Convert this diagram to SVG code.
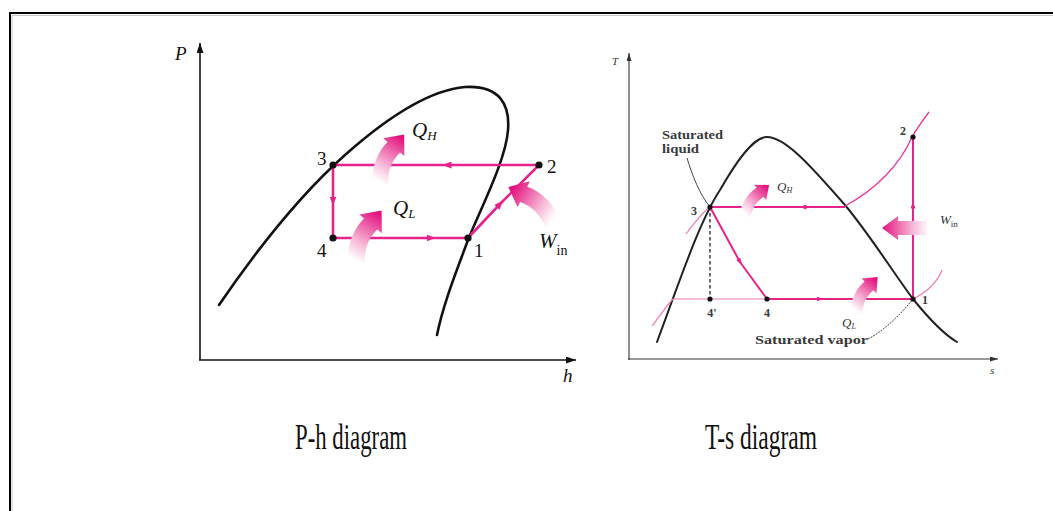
<svg xmlns="http://www.w3.org/2000/svg" width="1053" height="511" viewBox="0 0 1053 511">
<style>
.serif{font-family:"Liberation Serif","Times New Roman",serif;fill:#111}
.it{font-style:italic}
.ax{stroke:#111;stroke-width:1.6;fill:none}
.ax2{stroke:#333;stroke-width:1.1;fill:none}
.dome{stroke:#111;stroke-width:2.6;fill:none;stroke-linecap:round}
.dome2{stroke:#222;stroke-width:2;fill:none;stroke-linecap:round}
.cyc{stroke:#e6228b;stroke-width:2.6;fill:none}
.cyc2{stroke:#e6228b;stroke-width:2;fill:none}
.thin{stroke:#f07ab5;stroke-width:1.2;fill:none}
.thin2{stroke:#e8359a;stroke-width:1.3;fill:none}
.dot{fill:#111}
.ts{font-family:"Liberation Serif","Times New Roman",serif;fill:#333}
.tb{font-weight:bold;fill:#3a3a3a}
.lead{stroke:#444;stroke-width:1;fill:none}
</style>
<defs>
<marker id="mid" viewBox="0 0 10 10" refX="5" refY="5" markerUnits="userSpaceOnUse" markerWidth="9" markerHeight="7" orient="auto" preserveAspectRatio="none">
<path d="M0,0 L10,5 L0,10 z" fill="#e6228b"/>
</marker>
<marker id="mid2" viewBox="0 0 10 10" refX="5" refY="5" markerUnits="userSpaceOnUse" markerWidth="7" markerHeight="5" orient="auto" preserveAspectRatio="none">
<path d="M0,0 L10,5 L0,10 z" fill="#e6228b"/>
</marker>
<marker id="axh" viewBox="0 0 10 10" refX="10" refY="5" markerUnits="userSpaceOnUse" markerWidth="10" markerHeight="7" orient="auto" preserveAspectRatio="none">
<path d="M0,0 L10,5 L0,10 z" fill="#111"/>
</marker>
<marker id="axh2" viewBox="0 0 10 10" refX="10" refY="5" markerUnits="userSpaceOnUse" markerWidth="8" markerHeight="5" orient="auto" preserveAspectRatio="none">
<path d="M0,0 L10,5 L0,10 z" fill="#333"/>
</marker>
<linearGradient id="gv" x1="0.35" y1="1" x2="0.75" y2="0">
<stop offset="0" stop-color="#ffffff"/>
<stop offset="0.35" stop-color="#f7b6d6"/>
<stop offset="1" stop-color="#e3127d"/>
</linearGradient>
<linearGradient id="gh" x1="1" y1="0" x2="0" y2="0">
<stop offset="0" stop-color="#ffffff"/>
<stop offset="0.35" stop-color="#f7b6d6"/>
<stop offset="1" stop-color="#e3127d"/>
</linearGradient>
<path id="bent" d="M-7,0 C-7,-16 -2,-28 6.6,-36.5 L2.8,-39.7 L21,-43 L21.2,-24.3 L17.4,-27.5 C10,-20 7,-12 7,0 Z" fill="url(#gv)"/>
</defs>

<g id="frame">
<path d="M10,520 V13 H1060" fill="none" stroke="#000" stroke-width="2"/>
<path d="M12,520 V15.5 H1060" fill="none" stroke="#c8c8c8" stroke-width="1"/>
</g>

<!-- P-h diagram -->
<g id="ph-axes">
<path class="ax" d="M200,360 V43" marker-end="url(#axh)"/>
<path class="ax" d="M199,360 H576" marker-end="url(#axh)"/>
<text class="serif it" x="175" y="60" font-size="19">P</text>
<text class="serif it" x="563" y="382" font-size="19">h</text>
</g>
<g id="ph-dome">
<path class="dome" d="M219,305 C260,245 300,195 345,155 C390,115 430,90 465,87 C500,85 510,105 508,130 C506,160 480,210 468,240 C455,275 443,305 437,335"/>
</g>
<g id="ph-connectors">
<path class="cyc" d="M539,165 L447,165" marker-end="url(#mid)"/>
<path class="cyc" d="M447,165 L333,165"/>
<path class="cyc" d="M333,165 L333,201" marker-end="url(#mid)"/>
<path class="cyc" d="M333,201 L333,238"/>
<path class="cyc" d="M333,238 L431,238" marker-end="url(#mid)"/>
<path class="cyc" d="M431,238 L468,238"/>
<path class="cyc" d="M468,238 L500,204" marker-end="url(#mid)"/>
<path class="cyc" d="M500,204 L539,165"/>
</g>
<g id="ph-heat">
<use href="#bent" transform="translate(380,184) scale(1.15)"/>
<use href="#bent" transform="translate(356,263) scale(1.22)"/>
<use href="#bent" transform="translate(553,223) rotate(-25) scale(-1.2,1.2)"/>
<text class="serif" x="412" y="137" font-size="21"><tspan class="it">Q</tspan><tspan class="it" font-size="13" dy="3">H</tspan></text>
<text class="serif" x="393" y="215" font-size="21"><tspan class="it">Q</tspan><tspan class="it" font-size="13" dy="3">L</tspan></text>
<text class="serif" x="539" y="248" font-size="21"><tspan class="it">W</tspan><tspan font-size="14" dy="7">in</tspan></text>
</g>
<g id="ph-pt1"><circle class="dot" cx="468" cy="238" r="3.6"/><text class="serif" x="474" y="257" font-size="19">1</text></g>
<g id="ph-pt2"><circle class="dot" cx="539" cy="165" r="3.6"/><text class="serif" x="547" y="173" font-size="19">2</text></g>
<g id="ph-pt3"><circle class="dot" cx="333" cy="165" r="3.6"/><text class="serif" x="317" y="165" font-size="19">3</text></g>
<g id="ph-pt4"><circle class="dot" cx="333" cy="238" r="3.6"/><text class="serif" x="317" y="257" font-size="19">4</text></g>

<!-- T-s diagram -->
<g id="ts-axes">
<path class="ax2" d="M629,360 V53" marker-end="url(#axh2)"/>
<path class="ax2" d="M628,359 H998" marker-end="url(#axh2)"/>
<text class="ts it" x="612" y="65" font-size="11">T</text>
<text class="ts it" x="990" y="374" font-size="11">s</text>
</g>
<g id="ts-dome">
<path class="dome2" d="M657,342 C680,280 700,220 720,190 C740,155 755,137 767,137 C785,137 810,165 845,205 C870,235 895,275 913,299 C930,320 945,335 957,342"/>
</g>
<g id="ts-lines">
<path class="thin2" d="M845,206 C875,190 900,165 912,137 C918,127 923,120 929,112"/>
<path class="thin" d="M652,326 C660,316 666,306 673,299 L767,299"/>
<path class="thin" d="M913,299 C925,293 937,283 942,270"/>
<path class="thin" d="M686,234 C695,222 703,212 710,207"/>
<path d="M710,207 V299" stroke="#222" stroke-width="1.3" stroke-dasharray="3.5,2.5" fill="none"/>
<path class="lead" d="M687,158 C692,175 700,195 710,207"/>
<path class="lead" d="M868,339 C885,330 900,315 913,299" stroke-dasharray="2,1"/>
</g>
<g id="ts-connectors">
<path class="cyc2" d="M913,299 L913,205" marker-end="url(#mid2)"/>
<path class="cyc2" d="M913,205 L913,137"/>
<path class="cyc2" d="M845,207 L803,207" marker-end="url(#mid2)"/>
<path class="cyc2" d="M803,207 L710,207"/>
<path class="cyc2" d="M710,207 L740,262" marker-end="url(#mid2)"/>
<path class="cyc2" d="M740,262 L767,299"/>
<path class="cyc2" d="M767,299 L820,299" marker-end="url(#mid2)"/>
<path class="cyc2" d="M820,299 L913,299"/>
</g>
<g id="ts-heat">
<use href="#bent" transform="translate(745,216) rotate(12) scale(0.82)"/>
<use href="#bent" transform="translate(856,313) rotate(5) scale(0.88)"/>
<path d="M929,221 L898,221 L898,216 L882,228 L898,240 L898,235 L929,235 Z" fill="url(#gh)"/>
<text class="ts" x="777" y="191" font-size="13"><tspan class="it">Q</tspan><tspan class="it" font-size="8" dy="2">H</tspan></text>
<text class="ts" x="940" y="224" font-size="13"><tspan class="it">W</tspan><tspan font-size="9" dy="3">in</tspan></text>
<text class="ts" x="842" y="327" font-size="13"><tspan class="it">Q</tspan><tspan class="it" font-size="8" dy="2">L</tspan></text>
</g>
<g id="ts-pt1"><circle class="dot" cx="913" cy="299" r="2.6"/><text class="ts tb" x="922" y="304" font-size="12">1</text></g>
<g id="ts-pt2"><circle class="dot" cx="913" cy="137" r="2.6"/><text class="ts tb" x="900" y="135" font-size="12">2</text></g>
<g id="ts-pt3"><circle class="dot" cx="710" cy="207" r="2.6"/><text class="ts tb" x="691" y="215" font-size="12">3</text></g>
<g id="ts-pt4"><circle class="dot" cx="767" cy="299" r="2.6"/><text class="ts tb" x="767" y="317" font-size="12" text-anchor="middle">4</text></g>
<g id="ts-pt4p"><circle class="dot" cx="710" cy="299" r="2.6"/><text class="ts tb" x="712" y="317" font-size="12" text-anchor="middle">4'</text></g>
<g id="ts-satliq"><text class="ts tb" x="662" y="139" font-size="12" textLength="61" lengthAdjust="spacingAndGlyphs">Saturated</text><text class="ts tb" x="662" y="153" font-size="12" textLength="37" lengthAdjust="spacingAndGlyphs">liquid</text></g>
<g id="ts-satvap"><text class="ts tb" x="755" y="344" font-size="12" textLength="113" lengthAdjust="spacingAndGlyphs">Saturated vapor</text></g>

<g id="captions">
<text class="serif" x="295" y="449" font-size="36" textLength="112" lengthAdjust="spacingAndGlyphs">P-h diagram</text>
<text class="serif" x="705" y="449" font-size="36" textLength="112" lengthAdjust="spacingAndGlyphs">T-s diagram</text>
</g>
</svg>
